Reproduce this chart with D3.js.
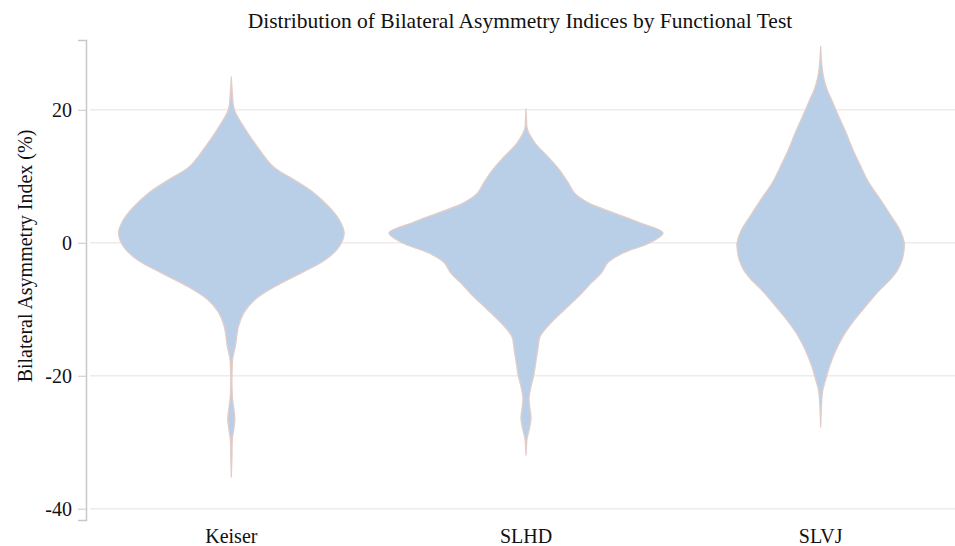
<!DOCTYPE html>
<html>
<head>
<meta charset="utf-8">
<script src="https://cdn.jsdelivr.net/npm/d3@7"></script>
<style>
  body { margin: 0; background: #fff; }
  text { font-family: "Liberation Serif", "Times New Roman", serif; fill: #111; }
</style>
</head>
<body>
<svg id="chart"></svg>
<script>
// functional tests
const tests = ["Keiser", "SLHD", "SLVJ"];

// estimated KDE profiles: asymmetry index (%) and density
const keiserBAI = [25.0, 22.5, 20.0, 17.4, 14.4, 11.4, 9.5, 7.5, 5.4, 3.5, 1.5, -0.6, -2.6, -4.5, -6.6, -8.6, -10.5, -12.6, -15.6, -17.3, -19.5, -21.5, -23.5, -25, -26.5, -28, -29.5, -32, -35.3];
const keiserDensity = [0, 0.001, 0.003, 0.0125, 0.026, 0.042, 0.062, 0.082, 0.097, 0.107, 0.112, 0.107, 0.093, 0.070, 0.043, 0.023, 0.0125, 0.007, 0.004, 0.0015, 0.0007, 0.0006, 0.0012, 0.0025, 0.0035, 0.0025, 0.001, 0.0006, 0];

const slhdBAI = [20.2, 18.5, 17.0, 15.0, 12.9, 11.0, 9.0, 7.5, 6.0, 4.5, 3.0, 1.5, 0, -1.5, -3.0, -4.5, -6.0, -8.1, -10.1, -12.0, -14.1, -16.1, -18.0, -20.1, -21.6, -23.5, -25, -26.3, -27.5, -28.5, -29.5, -30.5, -32];
const slhdDensity = [0, 0.0005, 0.0015, 0.009, 0.022, 0.033, 0.042, 0.048, 0.062, 0.087, 0.113, 0.136, 0.123, 0.097, 0.081, 0.075, 0.065, 0.052, 0.038, 0.025, 0.014, 0.0117, 0.0097, 0.0075, 0.005, 0.003, 0.004, 0.005, 0.004, 0.0025, 0.001, 0.0005, 0];

const slvjBAI = [29.6, 27, 24.8, 23, 21.8, 19, 16.8, 14, 11.9, 9, 6.8, 4, 1.8, 0, -0.7, -2.5, -4.2, -5.7, -7.2, -9.5, -11.7, -14, -16.2, -18.5, -20.3, -22.3, -24, -27.8];
const slvjDensity = [0, 0.001, 0.003, 0.0065, 0.010, 0.018, 0.0245, 0.032, 0.0385, 0.048, 0.058, 0.070, 0.079, 0.083, 0.083, 0.081, 0.076, 0.068, 0.058, 0.045, 0.033, 0.0225, 0.015, 0.009, 0.0055, 0.002, 0.001, 0];

const yTicks = [20, 0, -20, -40];

const violins = [
  { test: tests[0], bai: keiserBAI, density: keiserDensity },
  { test: tests[1], bai: slhdBAI, density: slhdDensity },
  { test: tests[2], bai: slvjBAI, density: slvjDensity }
];

const width = 955, height = 546;
const margin = { top: 40, right: -13, bottom: 26, left: 86 };

const svg = d3.select("#chart")
  .attr("width", width)
  .attr("height", height);

const x = d3.scaleBand()
  .domain(tests)
  .range([margin.left - 2, width - margin.right]);

const y = d3.scaleLinear()
  .domain([-41.7, 30.5])
  .range([height - margin.bottom, margin.top]);

const maxDensity = d3.max(violins, v => d3.max(v.density));
const w = d3.scaleLinear()
  .domain([0, maxDensity])
  .range([0, x.bandwidth() * 0.465]);

// grid
svg.append("g")
  .selectAll("line")
  .data(yTicks)
  .join("line")
  .attr("x1", margin.left + 4)
  .attr("x2", width)
  .attr("y1", d => y(d))
  .attr("y2", d => y(d))
  .attr("stroke", "#efebe8")
  .attr("stroke-width", 1.5);

// y axis
const yAxis = svg.append("g")
  .attr("transform", `translate(${margin.left},0)`)
  .call(d3.axisLeft(y).tickValues(yTicks).tickSize(8).tickPadding(6).tickFormat(d => String(d)));
yAxis.select(".domain").attr("stroke", "#c8c8c8").attr("stroke-width", 1.5);
yAxis.selectAll(".tick line").attr("stroke", "#c8c8c8");
yAxis.selectAll(".tick text")
  .style("font-family", "Liberation Serif, serif")
  .style("font-size", "20px")
  .attr("fill", "#111");

// violins
const area = d3.area()
  .curve(d3.curveCatmullRom.alpha(0.5))
  .y(d => y(d[0]))
  .x0(d => -w(d[1]))
  .x1(d => w(d[1]));

svg.append("g")
  .selectAll("path")
  .data(violins)
  .join("path")
  .attr("transform", d => `translate(${x(d.test) + x.bandwidth() / 2},0)`)
  .attr("d", d => area(d3.zip(d.bai, d.density)))
  .attr("fill", "#b9cee7")
  .attr("stroke", "#e2cdc8")
  .attr("stroke-width", 1.3);

// x labels
svg.append("g")
  .selectAll("text")
  .data(tests)
  .join("text")
  .attr("x", d => x(d) + x.bandwidth() / 2)
  .attr("y", 543)
  .attr("text-anchor", "middle")
  .style("font-size", "20px")
  .text(d => d);

// y label
svg.append("text")
  .attr("transform", "translate(32, 256) rotate(-90)")
  .attr("text-anchor", "middle")
  .style("font-size", "20px")
  .text("Bilateral Asymmetry Index (%)");

// title
svg.append("text")
  .attr("x", 520)
  .attr("y", 28)
  .attr("text-anchor", "middle")
  .style("font-size", "21.5px")
  .text("Distribution of Bilateral Asymmetry Indices by Functional Test");
</script>
</body>
</html>
